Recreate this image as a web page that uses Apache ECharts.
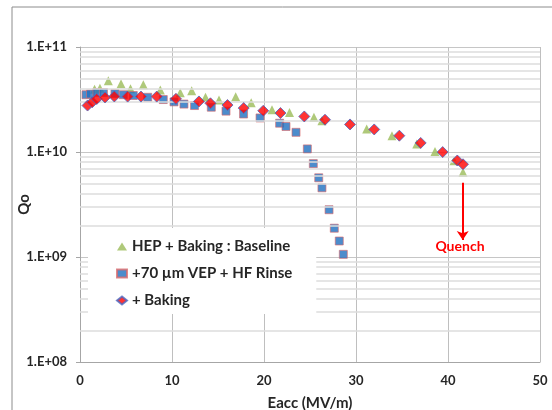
<!DOCTYPE html>
<html><head><meta charset="utf-8">
<script src="https://cdn.jsdelivr.net/npm/echarts@6/dist/echarts.min.js"></script>
<style>html,body{margin:0;padding:0;background:#fff}#c{width:552px;height:410px}</style>
</head><body><div id="c"></div>
<script>
// Data (Eacc MV/m, Qo)
const baselineE = [1.58,2.17,3.08,4.46,5.49,6.88,8.73,10.9,12.14,13.64,15.11,16.92,18.61,20.87,22.77,25.43,26.3,31.16,33.91,36.6,38.59,40.65,41.63];
const baselineQ = [3.96e10,4.05e10,4.77e10,4.47e10,4.0e10,4.37e10,3.89e10,3.67e10,3.83e10,3.32e10,3.13e10,3.36e10,2.94e10,2.52e10,2.38e10,2.14e10,1.98e10,1.66e10,1.43e10,1.19e10,1.01e10,8.24e9,6.43e9];
const vepE = [0.65,1.14,1.85,2.55,3.80,4.71,5.79,7.36,9.05,10.22,11.3,12.45,14.27,15.87,17.78,19.57,21.7,22.39,23.48,24.71,25.36,25.95,26.3,27.07,27.64,28.18,28.62];
const vepQ = [3.51e10,3.57e10,3.69e10,3.68e10,3.60e10,3.51e10,3.45e10,3.32e10,3.16e10,3.0e10,2.86e10,2.77e10,2.67e10,2.45e10,2.30e10,2.11e10,1.88e10,1.75e10,1.54e10,1.07e10,7.75e9,5.68e9,4.56e9,2.82e9,1.88e9,1.42e9,1.06e9];
const bakeE = [0.82,1.33,1.82,2.72,3.73,5.18,6.63,8.34,10.43,12.93,14.18,16.03,17.79,19.92,21.79,24.38,26.63,29.35,31.98,34.71,37.03,39.42,41.01,41.63];
const bakeQ = [2.77e10,2.98e10,3.20e10,3.31e10,3.38e10,3.37e10,3.37e10,3.37e10,3.21e10,3.03e10,2.91e10,2.80e10,2.62e10,2.47e10,2.35e10,2.18e10,2.03e10,1.83e10,1.64e10,1.43e10,1.22e10,9.98e9,8.30e9,7.64e9];
const seriesNames = ['HEP + Baking : Baseline', '+70 \u00b5m VEP + HF Rinse', '+ Baking'];
const yTickLabels = ['1.E+08','1.E+09','1.E+10','1.E+11'];
const minorMultipliers = [2,3,4,5,6,7,8,9];
const minorDecades = [1e8,1e9,1e10];
const quenchArrow = [[41.6,5.1e9],[41.6,1.45e9]];
const quenchLabel = [41.3,1.27e9];

const zip = (a,b) => a.map((v,i)=>[v,b[i]]);
const minorLines = [];
minorDecades.forEach(d => minorMultipliers.forEach(m => minorLines.push({yAxis: m*d})));

const FONT = 'Lato';
const chart = echarts.init(document.getElementById('c'), null, {renderer:'canvas'});
chart.setOption({
  animation:false,
  backgroundColor:'#fff',
  textStyle:{fontFamily:FONT},
  graphic:[{type:'rect', shape:{x:12,y:7,width:600,height:500}, style:{fill:'none',stroke:'#8c8c8c',lineWidth:1}, silent:true, z:0}],
  grid:{left:80,right:12,top:47,bottom:48, containLabel:false, outerBoundsMode:'none'},
  legend:{
    data: seriesNames, orient:'vertical', left:88, top:228,
    backgroundColor:'#fff', padding:[11,24,6,28], itemGap:12, itemWidth:10, itemHeight:8,
    textStyle:{fontFamily:FONT, fontSize:15, fontWeight:'bold', color:'#262626'}, z:10, selectedMode:false
  },
  xAxis:{
    type:'value', min:0, max:50, interval:10,
    name:'Eacc (MV/m)', nameLocation:'middle', nameGap:34, nameMoveOverlap:false,
    nameTextStyle:{fontFamily:FONT, fontSize:15, fontWeight:'bold', color:'#262626'},
    axisLine:{show:true, lineStyle:{color:'#a6a6a6'}}, axisTick:{show:false},
    axisLabel:{margin:12, fontFamily:FONT, fontSize:13, fontWeight:'bold', color:'#262626'},
    splitLine:{show:true, lineStyle:{color:'#bfbfbf', width:1}}
  },
  yAxis:{
    type:'log', logBase:10, min:1e8, max:1e11,
    name:'Qo', nameLocation:'middle', nameGap:48, nameMoveOverlap:false,
    nameTextStyle:{fontFamily:FONT, fontSize:15, fontWeight:'bold', color:'#262626'},
    axisLine:{show:true, lineStyle:{color:'#a6a6a6'}}, axisTick:{show:true, length:4, lineStyle:{color:'#a6a6a6'}},
    axisLabel:{margin:13, fontFamily:FONT, fontSize:13, fontWeight:'bold', color:'#262626',
      formatter: v => yTickLabels[Math.round(Math.log10(v)) - 8]},
    splitLine:{show:true, lineStyle:{color:'#c6c6c6', width:1}},
    minorTick:{show:false}, minorSplitLine:{show:false}
  },
  series:[
    {type:'scatter', name:'_minor', data:[], z:1, silent:true,
     markLine:{silent:true, symbol:'none', animation:false, label:{show:false},
       lineStyle:{color:'#dcdcdc', type:'solid', width:1.5}, data:minorLines}},
    {type:'scatter', name:seriesNames[0], data:zip(baselineE, baselineQ), symbol:'triangle', symbolSize:9,
     itemStyle:{color:'#9BBB59'}, z:3},
    {type:'scatter', name:seriesNames[1], data:zip(vepE, vepQ), symbol:'rect', symbolSize:8,
     itemStyle:{color:'#1F6FBF', borderColor:'#D9696B', borderWidth:0.8}, z:4},
    {type:'scatter', name:seriesNames[2], data:zip(bakeE, bakeQ), symbol:'diamond', symbolSize:11,
     itemStyle:{color:'#FF0000', borderColor:'#4A66C0', borderWidth:1}, z:5},
    {type:'scatter', name:'_quench', data:[], z:6, silent:true,
     markLine:{silent:true, symbol:['none','arrow'], symbolSize:9, animation:false, label:{show:false},
       lineStyle:{color:'#FF0000', type:'solid', width:2},
       itemStyle:{color:'#FF0000'},
       data:[[{coord:quenchArrow[0]},{coord:quenchArrow[1]}]]},
     markPoint:{silent:true, symbol:'circle', symbolSize:0, animation:false,
       label:{show:true, position:'inside', formatter:'Quench', fontFamily:FONT, fontSize:14, fontWeight:'bold', color:'#FF0000'},
       data:[{coord:quenchLabel}]}}
  ]
});
</script></body></html>
